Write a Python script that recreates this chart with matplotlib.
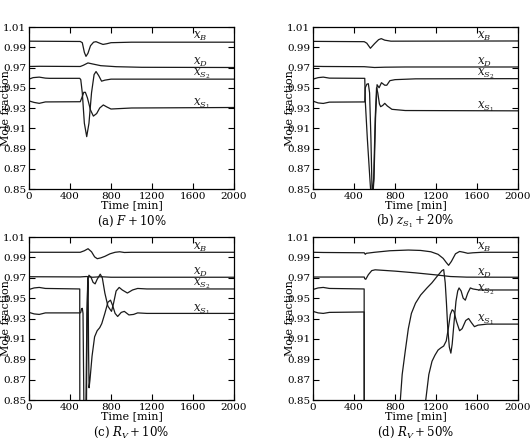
import matplotlib
matplotlib.use("Agg")
import matplotlib.pyplot as plt

plt.rcParams['font.family'] = ['DejaVu Serif']
plt.rcParams['mathtext.fontset'] = 'dejavuserif'

# ---------------- data ----------------
xticks = [0, 400, 800, 1200, 1600, 2000]
yticks = [0.85, 0.87, 0.89, 0.91, 0.93, 0.95, 0.97, 0.99, 1.01]
ytick_labels = ["0.85", "0.87", "0.89", "0.91", "0.93", "0.95", "0.97", "0.99", "1.01"]
captions = [r"(a) $F + 10\%$", r"(b) $z_{S_1} + 20\%$", r"(c) $R_V + 10\%$", r"(d) $R_V + 50\%$"]
series_names = [r"$x_B$", r"$x_D$", r"$x_{S_2}$", r"$x_{S_1}$"]

# panel (a)
a_B_t = [0, 500, 520, 540, 556, 575, 600, 630, 654, 690, 722, 760, 800, 1000, 2000]
a_B = [0.9960, 0.9957, 0.9945, 0.9850, 0.9810, 0.9840, 0.9915, 0.9950, 0.9955, 0.9940, 0.9928, 0.9935, 0.9945, 0.9950, 0.9950]
a_D_t = [0, 100, 500, 530, 575, 620, 700, 850, 1100, 2000]
a_D = [0.9710, 0.9712, 0.9710, 0.9722, 0.9745, 0.9735, 0.9718, 0.9708, 0.9702, 0.9700]
a_S2_t = [0, 40, 100, 160, 200, 495, 505, 520, 540, 563, 585, 610, 635, 654, 680, 708, 740, 800, 1000, 2000]
a_S2 = [0.9585, 0.9600, 0.9605, 0.9595, 0.9593, 0.9593, 0.9580, 0.9450, 0.9150, 0.9017, 0.9150, 0.9450, 0.9630, 0.9660, 0.9620, 0.9565, 0.9575, 0.9585, 0.9585, 0.9585]
a_S1_t = [0, 50, 100, 160, 500, 515, 535, 550, 570, 600, 628, 660, 690, 725, 760, 800, 1000, 2000]
a_S1 = [0.9370, 0.9355, 0.9346, 0.9360, 0.9362, 0.9400, 0.9455, 0.9455, 0.9400, 0.9280, 0.9220, 0.9245, 0.9300, 0.9330, 0.9310, 0.9290, 0.9300, 0.9305]

# panel (b)
b_B_t = [0, 500, 525, 560, 600, 640, 666, 700, 760, 2000]
b_B = [0.9958, 0.9955, 0.9940, 0.9890, 0.9935, 0.9975, 0.9985, 0.9970, 0.9960, 0.9962]
b_D_t = [0, 100, 500, 600, 700, 900, 2000]
b_D = [0.9712, 0.9710, 0.9708, 0.9700, 0.9703, 0.9705, 0.9705]
b_S2_t = [0, 50, 100, 160, 505, 510, 530, 555, 575, 595, 610, 625, 645, 668, 700, 720, 750, 800, 1000, 2000]
b_S2 = [0.9585, 0.9600, 0.9605, 0.9595, 0.9593, 0.9370, 0.9000, 0.8600, 0.8300, 0.8600, 0.9200, 0.9530, 0.9500, 0.9550, 0.9525, 0.9525, 0.9570, 0.9580, 0.9588, 0.9590]
b_S1_t = [0, 50, 100, 160, 505, 510, 525, 540, 552, 565, 578, 592, 607, 620, 632, 648, 660, 680, 700, 725, 770, 900, 2000]
b_S1 = [0.9368, 0.9350, 0.9345, 0.9358, 0.9360, 0.9500, 0.9535, 0.9540, 0.9450, 0.9000, 0.8400, 0.8600, 0.9200, 0.9500, 0.9450, 0.9340, 0.9313, 0.9325, 0.9346, 0.9320, 0.9287, 0.9275, 0.9272]

# panel (c)
c_B_t = [0, 500, 540, 576, 610, 640, 666, 700, 740, 790, 840, 885, 930, 1000, 2000]
c_B = [0.9950, 0.9950, 0.9965, 0.9985, 0.9955, 0.9905, 0.9887, 0.9895, 0.9910, 0.9935, 0.9950, 0.9955, 0.9948, 0.9950, 0.9950]
c_D_t = [0, 500, 560, 620, 700, 800, 2000]
c_D = [0.9710, 0.9708, 0.9712, 0.9705, 0.9710, 0.9705, 0.9705]
c_S2_t = [0, 50, 100, 160, 495, 496, 550, 556, 565, 575, 585, 605, 625, 645, 665, 695, 715, 740, 770, 805, 825, 850, 880, 910, 960, 1010, 1060, 1150, 2000]
c_S2 = [0.9585, 0.9600, 0.9605, 0.9595, 0.9590, 0.8000, 0.8000, 0.8500, 0.9350, 0.9680, 0.9725, 0.9705, 0.9655, 0.9640, 0.9685, 0.9735, 0.9700, 0.9550, 0.9420, 0.9370, 0.9450, 0.9570, 0.9605, 0.9580, 0.9550, 0.9580, 0.9595, 0.9590, 0.9590]
c_S1_t = [0, 50, 100, 160, 500, 505, 512, 520, 527, 535, 540, 555, 561, 568, 573, 577, 581, 586, 595, 615, 640, 665, 690, 710, 740, 770, 795, 815, 840, 865, 900, 930, 975, 1020, 1060, 1150, 2000]
c_S1 = [0.9360, 0.9345, 0.9340, 0.9355, 0.9355, 0.9360, 0.9395, 0.9400, 0.9350, 0.8500, 0.8000, 0.8000, 0.8500, 0.9400, 0.9700, 0.9650, 0.9000, 0.8620, 0.8700, 0.8930, 0.9120, 0.9180, 0.9210, 0.9250, 0.9350, 0.9460, 0.9480, 0.9430, 0.9350, 0.9320, 0.9360, 0.9370, 0.9335, 0.9340, 0.9355, 0.9350, 0.9350]

# panel (d)
d_B_t = [0, 100, 500, 510, 520, 600, 750, 930, 1050, 1150, 1220, 1270, 1300, 1323, 1350, 1390, 1430, 1470, 1510, 1560, 1650, 2000]
d_B = [0.9950, 0.9948, 0.9945, 0.9930, 0.9940, 0.9950, 0.9965, 0.9972, 0.9968, 0.9955, 0.9930, 0.9890, 0.9850, 0.9822, 0.9860, 0.9935, 0.9958, 0.9950, 0.9940, 0.9945, 0.9950, 0.9950]
d_D_t = [0, 500, 505, 515, 540, 573, 606, 800, 1000, 1200, 1340, 1500, 2000]
d_D = [0.9707, 0.9707, 0.9690, 0.9685, 0.9730, 0.9770, 0.9778, 0.9765, 0.9748, 0.9728, 0.9712, 0.9706, 0.9705]
d_S2_t = [0, 50, 100, 160, 499, 500, 840, 852, 870, 900, 930, 960, 1000, 1050, 1112, 1160, 1210, 1258, 1275, 1290, 1302, 1315, 1330, 1345, 1358, 1375, 1395, 1412, 1425, 1445, 1465, 1486, 1510, 1535, 1560, 1620, 2000]
d_S2 = [0.9585, 0.9600, 0.9605, 0.9595, 0.9590, 0.8000, 0.8000, 0.8500, 0.8750, 0.8980, 0.9200, 0.9350, 0.9450, 0.9530, 0.9600, 0.9650, 0.9713, 0.9770, 0.9780, 0.9650, 0.9450, 0.9200, 0.9020, 0.8960, 0.9050, 0.9250, 0.9470, 0.9570, 0.9600, 0.9570, 0.9500, 0.9480, 0.9550, 0.9600, 0.9590, 0.9580, 0.9580]
d_S1_t = [0, 50, 100, 160, 499, 500, 1085, 1100, 1130, 1161, 1190, 1220, 1245, 1275, 1300, 1320, 1340, 1358, 1375, 1400, 1430, 1455, 1490, 1518, 1545, 1575, 1610, 1700, 2000]
d_S1 = [0.9370, 0.9355, 0.9350, 0.9360, 0.9364, 0.8000, 0.8000, 0.8500, 0.8750, 0.8880, 0.8940, 0.8990, 0.9010, 0.9030, 0.9080, 0.9200, 0.9340, 0.9386, 0.9370, 0.9270, 0.9180, 0.9200, 0.9280, 0.9300, 0.9260, 0.9220, 0.9235, 0.9245, 0.9245]

panels = [
    [(a_B_t, a_B), (a_D_t, a_D), (a_S2_t, a_S2), (a_S1_t, a_S1)],
    [(b_B_t, b_B), (b_D_t, b_D), (b_S2_t, b_S2), (b_S1_t, b_S1)],
    [(c_B_t, c_B), (c_D_t, c_D), (c_S2_t, c_S2), (c_S1_t, c_S1)],
    [(d_B_t, d_B), (d_D_t, d_D), (d_S2_t, d_S2), (d_S1_t, d_S1)],
]
label_x = 1600
label_y = [
    [0.9978, 0.9727, 0.9623, 0.9322],
    [0.9978, 0.9727, 0.9623, 0.9293],
    [0.9970, 0.9730, 0.9622, 0.9370],
    [0.9970, 0.9720, 0.9570, 0.9270],
]

# ---------------- figure ----------------
W, H = 532, 440
fig = plt.figure(figsize=(W / 100, H / 100), dpi=100)
boxes = [
    (29, 27, 205, 162),
    (313, 27, 205, 162),
    (29, 237, 205, 163),
    (313, 237, 205, 163),
]
for i, (l, t, w, h) in enumerate(boxes):
    ax = fig.add_axes([l / W, 1 - (t + h) / H, w / W, h / H])
    for (tt, vv) in panels[i]:
        ax.plot(tt, vv, color='#1a1a1a', lw=0.9)
    for name, yy in zip(series_names, label_y[i]):
        ax.text(label_x, yy, name, fontsize=8.5, ha='left', va='baseline', color='#1a1a1a')
    ax.set_xlim(0, 2000)
    ax.set_ylim(0.85, 1.01)
    ax.set_xticks(xticks)
    ax.set_xticklabels([str(v) for v in xticks])
    ax.set_yticks(yticks)
    ax.set_yticklabels(ytick_labels)
    ax.tick_params(direction='in', top=True, right=True, length=4, width=0.8,
                   labelsize=7.5, pad=2)
    for s in ax.spines.values():
        s.set_linewidth(0.9)
    ax.set_xlabel("Time [min]", fontsize=8)
    ax.xaxis.set_label_coords(0.5, -11.5 / h)
    ax.set_ylabel("Mole fraction", fontsize=8)
    ax.yaxis.set_label_coords(-18 / w, 0.5)
    ax.text(0.5, -32 / h, captions[i], transform=ax.transAxes, ha='center',
            va='center', fontsize=8.5)

fig.savefig("out.png", dpi=100)
